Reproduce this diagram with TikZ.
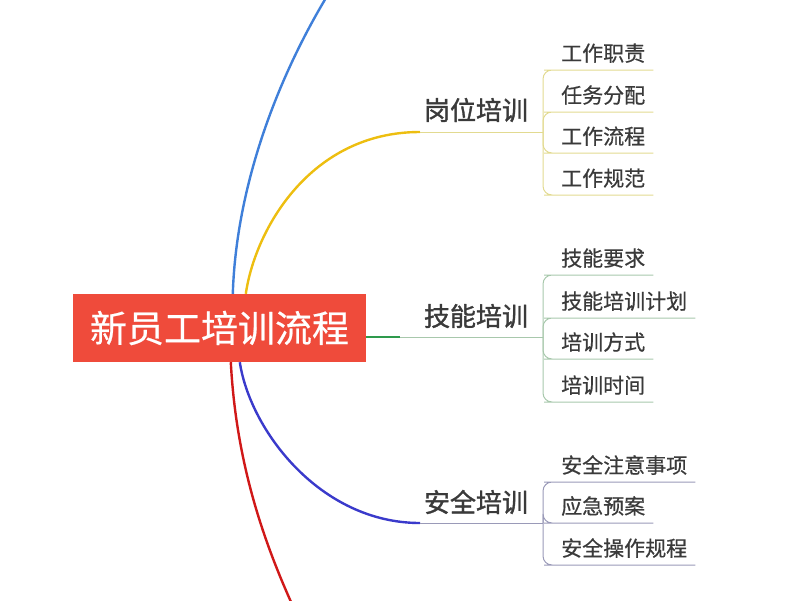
\documentclass[tikz,border=0pt]{standalone}
\usepackage{fontspec}
\newfontfamily\cjk[FakeBold=0.5]{Noto Sans CJK SC}
\newfontfamily\cjkb[FakeBold=1.3]{Noto Sans CJK SC}
\usepackage{xcolor}
\usepackage{tikz}
\usetikzlibrary{positioning,calc}

\definecolor{rootred}{HTML}{EF4B3B}
\definecolor{txtgray}{HTML}{3A3A3A}
\definecolor{bblue}{HTML}{3F7FD9}
\definecolor{byellow}{HTML}{EDBE10}
\definecolor{bgreen}{HTML}{2E9A4C}
\definecolor{bpurple}{HTML}{3A3ACB}
\definecolor{bred}{HTML}{D01818}
\definecolor{ylwtwig}{HTML}{E2DA90}
\definecolor{grntwig}{HTML}{A8C8AC}
\definecolor{prptwig}{HTML}{9A9AB8}

\tikzset{
    root/.style={fill=rootred, text=white, minimum width=293pt, minimum height=68pt,
        inner sep=0pt, font=\cjk\fontsize{37}{40}\selectfont},
    topic/.style={text=txtgray, inner sep=0pt, font=\cjkb\fontsize{26}{30}\selectfont},
    leaf/.style={text=txtgray, inner xsep=8pt, inner ysep=7pt, anchor=south west,
        font=\cjk\fontsize{21}{24}\selectfont},
    trunk/.style={line width=2.4pt, line cap=butt},
    twig/.style={line width=1pt, rounded corners=9pt},
}

\begin{document}
\begin{tikzpicture}[x=1pt,y=-1pt]
        \useasboundingbox (0,0) rectangle (800,600);

        % Root topic
        \node[root] (root) at (219.5,328) {新员工培训流程};

        % Free ends of the branches that leave the page
        \coordinate (upend) at (332,-12);
        \coordinate (downend) at (297,615);

        % Junctions where the leaves fan out
        \coordinate (gwj) at (543,132);
        \coordinate (jnj) at (543,337);
        \coordinate (aqj) at (543,523);

        % Main topics
        \node[topic] (gw) at (476,110) {岗位培训};
        \node[topic] (jn) at (476,316) {技能培训};
        \node[topic] (aq) at (476,502) {安全培训};

        % Branches from the root
        \begin{scope}
            \clip (0,0) rectangle (800,600);
            \draw[trunk,bblue] ($(root.north west)+(160,0)$) .. controls (236,190) and (275,80) .. (upend);
            \draw[trunk,bred] ($(root.south west)+(158,0)$) .. controls (236,460) and (262,540) .. (downend);
        \end{scope}
        \draw[trunk,byellow] ($(root.north west)+(173,0)$) .. controls (255,230) and (310,132) .. (420,132);
        \draw[twig,ylwtwig] (420,132) -- (gwj);
        \draw[trunk,bgreen] ($(root.east)+(0,9)$) -- (400,337);
        \draw[twig,grntwig] (400,337) -- (jnj);
        \draw[trunk,bpurple] ($(root.south west)+(167,0)$) .. controls (250,430) and (320,523) .. (420,523);
        \draw[twig,prptwig] (420,523) -- (aqj);

        % Leaves
        \foreach \y/\txt/\nm in {70/工作职责/gw1,112/任务分配/gw2,153/工作流程/gw3,195/工作规范/gw4} {
            \node[leaf] (\nm) at (553,\y) {\txt};
            \draw[twig,ylwtwig] (gwj) |- (\nm.south west) -- (\nm.south east);
        }
        \foreach \y/\txt/\nm in {275/技能要求/jn1,318/技能培训计划/jn2,359/培训方式/jn3,402/培训时间/jn4} {
            \node[leaf] (\nm) at (553,\y) {\txt};
            \draw[twig,grntwig] (jnj) |- (\nm.south west) -- (\nm.south east);
        }
        \foreach \y/\txt/\nm in {482/安全注意事项/aq1,523/应急预案/aq2,565/安全操作规程/aq3} {
            \node[leaf] (\nm) at (553,\y) {\txt};
            \draw[twig,prptwig] (aqj) |- (\nm.south west) -- (\nm.south east);
        }
    \end{tikzpicture}
\end{document}
